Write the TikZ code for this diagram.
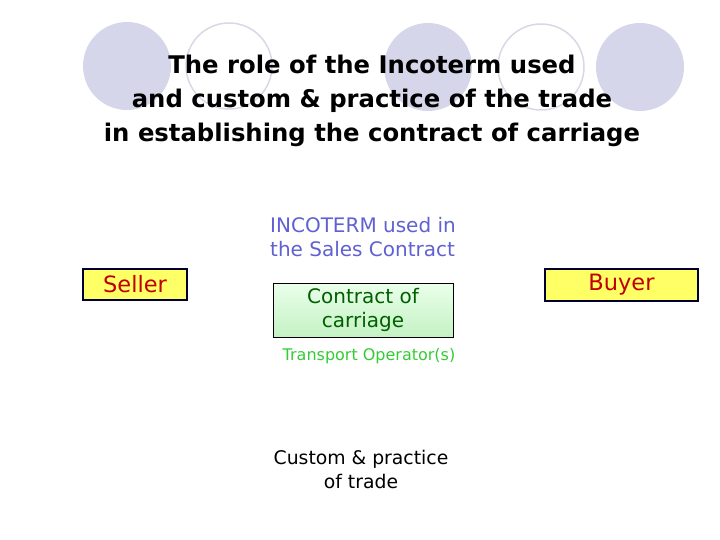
\documentclass[tikz,border=0pt]{standalone}
\usepackage{fontspec}
\setmainfont{DejaVu Sans}
\definecolor{circfill}{RGB}{214,214,234}
\definecolor{circline}{RGB}{216,216,230}
\definecolor{incoblue}{RGB}{96,96,210}
\definecolor{sellred}{RGB}{192,0,0}
\definecolor{boxyellow}{RGB}{255,255,102}
\definecolor{boxnavy}{RGB}{0,0,51}
\definecolor{cgreen}{RGB}{0,96,0}
\definecolor{tgreen}{RGB}{51,204,51}
\definecolor{gtop}{RGB}{234,255,234}
\definecolor{gbot}{RGB}{196,242,196}
\begin{document}
\begin{tikzpicture}[x=1pt,y=1pt,
  deco/.style={fill=circfill},
  ring/.style={draw=circline,line width=1.5pt},
  partybox/.style={draw=boxnavy,line width=1.6pt,fill=boxyellow,text=sellred,
    inner sep=0pt,font=\fontsize{22.5}{26}\selectfont},
  carriagebox/.style={draw=black,line width=0.8pt,top color=gtop,bottom color=gbot,
    text=cgreen,align=center,inner sep=0pt,minimum width=180pt,minimum height=54pt,
    font=\fontsize{20}{24}\selectfont},
  plain/.style={align=center,inner sep=0pt}]
\useasboundingbox (0,0) rectangle (720,-540);
% decorative circles
\fill[deco] (127,-66) circle (44);
\draw[ring] (229,-66) circle (43);
\fill[deco] (428,-67) circle (44);
\draw[ring] (541,-67) circle (43);
\fill[deco] (640,-67) circle (44);
% title
\node[plain,font=\fontsize{24.3}{34}\selectfont\bfseries] (title) at (372,-101)
  {The role of the Incoterm used\\and custom \& practice of the trade\\in establishing the contract of carriage};
% labels and boxes
\node[plain,align=left,anchor=west,text=incoblue,font=\fontsize{20}{24}\selectfont] (inco) at (270,-237)
  {INCOTERM used in\\the Sales Contract};
\node[partybox,minimum width=104pt,minimum height=31pt] (seller) at (135,-284.5) {Seller};
\node[partybox,minimum width=153pt,minimum height=32pt] (buyer) at (621.5,-285) {Buyer};
\node[carriagebox] (carriage) at (363,-310) {Contract of\\carriage};
\node[plain,text=tgreen,font=\fontsize{16}{18}\selectfont] (operator) at (369,-356) {Transport Operator(s)};
\node[plain,font=\fontsize{18.8}{24}\selectfont] (custom) at (361,-469) {Custom \& practice\\of trade};
\end{tikzpicture}
\end{document}
